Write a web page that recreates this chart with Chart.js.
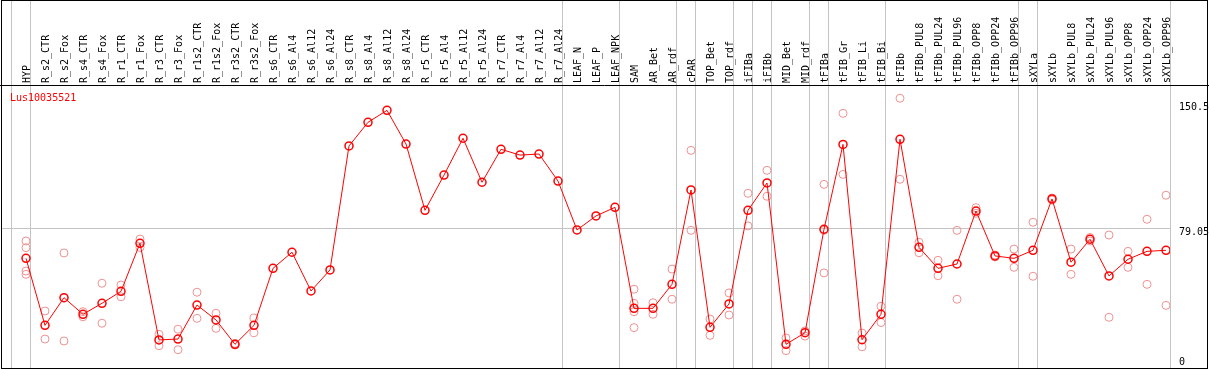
<!DOCTYPE html>
<html>
<head>
<meta charset="utf-8">
<script src="https://cdn.jsdelivr.net/npm/chart.js@4.4.0/dist/chart.umd.min.js"></script>
<style>
  html, body { margin: 0; padding: 0; background: #fff; }
  #wrap { width: 1209px; height: 370px; }
</style>
</head>
<body>
<div id="wrap"><canvas id="expr-chart" width="1209" height="370"></canvas></div>
<script>
const geneName = 'Lus10035521';

const categories = [
  'HYP', 'R_s2_CTR', 'R_s2_Fox', 'R_s4_CTR', 'R_s4_Fox', 'R_r1_CTR', 'R_r1_Fox', 'R_r3_CTR', 'R_r3_Fox',
  'R_r1s2_CTR', 'R_r1s2_Fox', 'R_r3s2_CTR', 'R_r3s2_Fox', 'R_s6_CTR', 'R_s6_Al4', 'R_s6_Al12', 'R_s6_Al24',
  'R_s8_CTR', 'R_s8_Al4', 'R_s8_Al12', 'R_s8_Al24', 'R_r5_CTR', 'R_r5_Al4', 'R_r5_Al12', 'R_r5_Al24',
  'R_r7_CTR', 'R_r7_Al4', 'R_r7_Al12', 'R_r7_Al24', 'LEAF_N', 'LEAF_P', 'LEAF_NPK', 'SAM', 'AR_Bet', 'AR_rdf',
  'cPAR', 'TOP_Bet', 'TOP_rdf', 'iFIBa', 'iFIBb', 'MID_Bet', 'MID_rdf', 'tFIBa', 'tFIB_Gr', 'tFIB_Li', 'tFIB_Bi',
  'tFIBb', 'tFIBb_PUL8', 'tFIBb_PUL24', 'tFIBb_PUL96', 'tFIBb_OPP8', 'tFIBb_OPP24', 'tFIBb_OPP96',
  'sXYLa', 'sXYLb', 'sXYLb_PUL8', 'sXYLb_PUL24', 'sXYLb_PUL96', 'sXYLb_OPP8', 'sXYLb_OPP24', 'sXYLb_OPP96'
];

// mean expression per sample
const meanValues = [
  61.9, 23.7, 39.5, 30.0, 36.3, 43.1, 70.5, 15.4, 15.9,
  35.3, 26.8, 12.9, 23.7, 56.2, 65.4, 43.3, 55.3,
  126.0, 139.5, 146.3, 127.1, 89.3, 109.4, 130.4, 105.3,
  124.1, 120.8, 121.4, 106.0, 78.1, 86.1, 91.0, 33.4, 33.4, 47.1,
  100.9, 22.6, 35.9, 89.3, 104.9, 12.9, 19.5, 78.5, 126.9, 15.5, 30.0,
  129.8, 68.2, 56.2, 58.7, 88.9, 63.3, 61.9,
  66.5, 95.8, 59.7, 72.8, 51.9, 61.4, 65.9, 66.5
];

// individual replicates (null = no replicate shown)
const rep1 = [
  71.8, 31.9, 65.0, 31.5, 47.7, 46.7, 72.9, 18.6, 21.5,
  42.6, 30.6, 13.4, 27.9, null, null, null, null,
  null, null, null, null, null, null, null, null,
  null, null, null, null, null, null, null, 44.3, 36.6, 55.8,
  123.5, 27.3, 42.2, 99.0, 112.1, 16.5, 20.5, 104.1, 144.6, 19.3, 34.6,
  153.2, 71.1, 60.8, 77.9, 90.8, 63.8, 67.2,
  82.5, 96.3, 67.2, 73.8, 75.2, 65.9, 84.2, 97.9
];
const rep2 = [
  68.0, 15.9, 14.8, 28.6, 24.9, 40.0, 68.1, 12.1, 9.8,
  27.7, 22.0, 12.5, 19.5, null, null, null, null,
  null, null, null, null, null, null, null, null,
  null, null, null, null, null, null, null, 36.3, 30.0, 38.6,
  77.9, 18.0, 29.6, 80.4, 97.3, 9.3, 17.6, 77.9, 109.8, 11.5, 25.3,
  107.0, 65.1, 52.0, 38.6, 87.6, 62.7, 56.8,
  51.7, 95.2, 52.8, 71.8, 28.3, 56.8, 47.1, 35.1
];
const rep3 = [
  54.7, null, null, null, null, null, null, null, null,
  null, null, null, null, null, null, null, null,
  null, null, null, null, null, null, null, null,
  null, null, null, null, null, null, null, 31.5, null, null,
  null, null, null, null, null, null, null, 53.6, null, null, null,
  null, null, null, null, null, null, null,
  null, null, null, null, null, null, null, null
];
const rep4 = [
  52.8, null, null, null, null, null, null, null, null,
  null, null, null, null, null, null, null, null,
  null, null, null, null, null, null, null, null,
  null, null, null, null, null, null, null, 22.4, null, null,
  null, null, null, null, null, null, null, null, null, null, null,
  null, null, null, null, null, null, null,
  null, null, null, null, null, null, null, null
];

const axisTicks = [0, 79.05, 150.5];
// index of the first sample of each tissue group (61 = end)
const groupStarts = [0, 1, 29, 32, 35, 36, 38, 39, 40, 42, 43, 46, 53, 54, 61];

const monoFont = '"DejaVu Sans Mono", "Liberation Mono", monospace';
const repColor = 'rgb(238,146,146)';
const sepColor = '#c4c4c4';

function toPoints(arr) {
  return arr.map((v, i) => v == null ? null : { x: i, y: v }).filter(p => p);
}

const framePlugin = {
  id: 'frame',
  beforeDraw(chart) {
    const { ctx, chartArea, scales } = chart;
    ctx.save();
    ctx.strokeStyle = sepColor;
    ctx.lineWidth = 1;
    groupStarts.forEach(k => {
      let x = Math.round(scales.x.getPixelForValue(k - 0.79)) + 0.5;
      ctx.beginPath();
      ctx.moveTo(x, 0);
      ctx.lineTo(x, chartArea.bottom);
      ctx.stroke();
    });
    ctx.restore();
  },
  afterDraw(chart) {
    const { ctx, chartArea, scales, width } = chart;
    ctx.save();
    // outer box and separator under the labels
    ctx.strokeStyle = '#000';
    ctx.lineWidth = 1;
    ctx.strokeRect(1.5, 0.5, width - 3, chartArea.bottom);
    ctx.beginPath();
    ctx.moveTo(0, chartArea.top + 0.5);
    ctx.lineTo(width, chartArea.top + 0.5);
    ctx.stroke();

    ctx.font = '10px ' + monoFont;
    ctx.fillStyle = '#000';

    // sample names, rotated, reading upwards from the separator
    ctx.textAlign = 'left';
    ctx.textBaseline = 'middle';
    categories.forEach((name, i) => {
      ctx.save();
      ctx.translate(scales.x.getPixelForValue(i) + 1, chartArea.top - 2);
      ctx.rotate(-Math.PI / 2);
      ctx.fillText(name, 0, 0);
      ctx.restore();
    });

    // right axis labels
    axisTicks.forEach(v => {
      let y = Math.min(scales.y.getPixelForValue(v) + 4, chartArea.bottom - 6);
      ctx.fillText(String(v), chartArea.right + 9, y);
    });

    // gene name
    ctx.fillStyle = '#ff0000';
    ctx.fillText(geneName, chartArea.left + 8, chartArea.top + 13);
    ctx.restore();
  }
};

const repDatasets = [rep1, rep2, rep3, rep4].map((arr, n) => ({
  type: 'scatter',
  label: 'rep' + (n + 1),
  data: toPoints(arr),
  pointRadius: 4,
  pointBorderWidth: 1,
  pointBorderColor: repColor,
  pointBackgroundColor: 'rgba(0,0,0,0)',
  showLine: false
}));

new Chart(document.getElementById('expr-chart'), {
  type: 'line',
  data: {
    datasets: [{
      label: 'mean',
      data: toPoints(meanValues),
      borderColor: '#ff0000',
      borderWidth: 1,
      pointRadius: 4,
      pointBorderWidth: 1.5,
      pointBorderColor: '#ff0000',
      pointBackgroundColor: 'rgba(0,0,0,0)',
      tension: 0
    }, ...repDatasets]
  },
  options: {
    responsive: false,
    animation: false,
    devicePixelRatio: 1,
    layout: { autoPadding: false, padding: { left: 2, right: 0, top: 0, bottom: 2 } },
    plugins: { legend: { display: false }, tooltip: { enabled: false } },
    scales: {
      x: {
        type: 'linear',
        position: 'top',
        min: -1.263,
        max: 60.21,
        afterBuildTicks: s => { s.ticks = categories.map((c, i) => ({ value: i })); },
        afterFit: s => { s.height = 85; s.paddingLeft = 0; s.paddingRight = 0; },
        grid: { display: false, drawTicks: false },
        border: { display: false },
        ticks: { display: false }
      },
      y: {
        type: 'linear',
        position: 'right',
        min: -0.61,
        max: 160.76,
        afterBuildTicks: s => { s.ticks = axisTicks.map(v => ({ value: v })); },
        afterFit: s => { s.width = 39; },
        grid: {
          drawTicks: false,
          color: c => (c.tick && c.tick.value === axisTicks[1]) ? sepColor : 'rgba(0,0,0,0)'
        },
        border: { display: false },
        ticks: { display: false }
      }
    }
  },
  plugins: [framePlugin]
});
</script>
</body>
</html>
